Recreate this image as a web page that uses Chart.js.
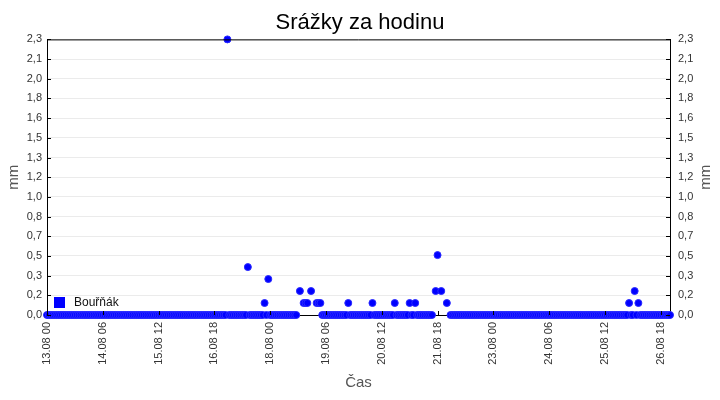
<!DOCTYPE html>
<html lang="cs">
<head>
<meta charset="utf-8">
<title>Srážky za hodinu</title>
<script src="https://cdn.jsdelivr.net/npm/chart.js@4.4.1/dist/chart.umd.min.js"></script>
<style>
  html, body { margin: 0; padding: 0; background: #fff; }
  #wrap { width: 720px; height: 400px; }
</style>
</head>
<body>
<div id="wrap"><canvas id="rainChart" width="720" height="400"></canvas></div>
<script>
const chartTitle = "Srážky za hodinu";
const stationName = "Bouřňák";
const yTitle = "mm";
const xTitle = "Čas";

// hourly rain in mm, one row = one day (hours 00..23), null = no reading
const day13 = [0,0,0,0,0,0,0,0,0,0,0,0,0,0,0,0,0,0,0,0,0,0,0,0];
const day14 = [0,0,0,0,0,0,0,0,0,0,0,0,0,0,0,0,0,0,0,0,0,0,0,0];
const day15 = [0,0,0,0,0,0,0,0,0,0,0,0,0,0,0,0,0,0,0,0,0,0,0,0];
const day16 = [0,0,0,0,0,0,0,0,0,0,0,0,0,0,0,0,0,0,0,0,0,0,0,0];
const day17 = [0,2.3,0,0,0,0,0,0,0,0,0,0,0.4,0,0,0,0,0,0,0,0,0.1,0,0.3];
const day18 = [0,0,0,0,0,0,0,0,0,0,0,0,0,0,0,null,0.2,null,0.1,0.1,0.1,null,0.2,null];
const day19 = [null,0.1,0.1,0.1,0,0,0,0,0,0,0,0,0,0,0,0,0,0,0.1,0,0,0,0,0];
const day20 = [0,0,0,0,0,0,0,0.1,0,0,0,0,0,0,0,0,0,0,0,0.1,0,0,0,0];
const day21 = [0,0,0,0.1,0,0,0.1,0,0,0,0,0,0,0,0,0,null,0.2,0.5,null,0.2,null,null,0.1];
const day22 = [null,0,0,0,0,0,0,0,0,0,0,0,0,0,0,0,0,0,0,0,0,0,0,0];
const day23 = [0,0,0,0,0,0,0,0,0,0,0,0,0,0,0,0,0,0,0,0,0,0,0,0];
const day24 = [0,0,0,0,0,0,0,0,0,0,0,0,0,0,0,0,0,0,0,0,0,0,0,0];
const day25 = [0,0,0,0,0,0,0,0,0,0,0,0,0,0,0,0,0,0,0,0,0,0,0,0];
const day26 = [0,0.1,0,0,0.2,0,0.1,0,0,0,0,0,0,0,0,0,0,0,0,0,0,0,0,0];

const hourlyRain = [...day13, ...day14, ...day15, ...day16, ...day17, ...day18, ...day19,
  ...day20, ...day21, ...day22, ...day23, ...day24, ...day25, ...day26];

// tick labels on the time axis, placed at hour offsets from 13.08 00
const xTickHours = [0, 30, 60, 90, 120, 150, 180, 210, 240, 270, 300, 330];
const xTickLabels = ["13.08 00", "14.08 06", "15.08 12", "16.08 18", "18.08 00", "19.08 06",
  "20.08 12", "21.08 18", "23.08 00", "24.08 06", "25.08 12", "26.08 18"];

const yMax = 2.3;
const yTickLabels = ["0,0", "0,2", "0,3", "0,5", "0,7", "0,8", "1,0", "1,2", "1,3", "1,5",
  "1,6", "1,8", "2,0", "2,1", "2,3"];

const fontFamily = "'Liberation Sans', Arial, sans-serif";
const blue = "#0000ff";

function yTicks(scale) {
  scale.ticks = yTickLabels.map((_, i) => ({ value: yMax * i / (yTickLabels.length - 1) }));
}

const frameExtras = {
  id: "frameExtras",
  afterDraw(chart) {
    const { ctx, chartArea: a, scales } = chart;
    ctx.save();
    ctx.strokeStyle = "#000";
    ctx.lineWidth = 1;
    ctx.beginPath();
    // top border
    ctx.moveTo(a.left, a.top + 0.5);
    ctx.lineTo(a.right, a.top + 0.5);
    // inner tick marks
    xTickHours.forEach((h) => {
      const px = Math.round(scales.x.getPixelForValue(h)) + 0.5;
      ctx.moveTo(px, a.bottom);
      ctx.lineTo(px, a.bottom - 4);
    });
    scales.y.ticks.forEach((t) => {
      const py = Math.round(scales.y.getPixelForValue(t.value)) + 0.5;
      ctx.moveTo(a.left, py);
      ctx.lineTo(a.left + 4, py);
      ctx.moveTo(a.right, py);
      ctx.lineTo(a.right - 4, py);
    });
    ctx.stroke();

    // right axis title, reading bottom to top like the left one
    ctx.fillStyle = "#555";
    ctx.font = "15px " + fontFamily;
    ctx.textAlign = "center";
    ctx.textBaseline = "middle";
    ctx.translate(706, (a.top + a.bottom) / 2);
    ctx.rotate(-Math.PI / 2);
    ctx.fillText(yTitle, 0, 0);
    ctx.restore();

    // legend inside the plot, bottom left
    ctx.save();
    ctx.fillStyle = blue;
    ctx.fillRect(a.left + 7, a.bottom - 18, 11, 11);
    ctx.fillStyle = "#111";
    ctx.font = "12px " + fontFamily;
    ctx.textBaseline = "middle";
    ctx.fillText(stationName, a.left + 27, a.bottom - 12);
    ctx.restore();
  },
};

const points = [];
hourlyRain.forEach((v, i) => {
  if (v !== null) points.push({ x: i, y: v });
});

new Chart(document.getElementById("rainChart"), {
  type: "scatter",
  data: {
    datasets: [
      {
        label: stationName,
        data: points,
        backgroundColor: blue,
        borderColor: "#2a2aff",
        borderWidth: 1,
        pointRadius: 3.5,
        pointHoverRadius: 3.5,
        clip: false,
      },
    ],
  },
  options: {
    responsive: false,
    animation: false,
    layout: { padding: 0 },
    plugins: {
      legend: { display: false },
      tooltip: { enabled: false },
      title: {
        display: true,
        text: chartTitle,
        color: "#000",
        font: { family: fontFamily, size: 22, weight: "normal" },
        padding: { top: 10, bottom: 3 },
      },
    },
    scales: {
      x: {
        type: "linear",
        min: 0,
        max: hourlyRain.length - 1,
        afterBuildTicks: (scale) => {
          scale.ticks = xTickHours.map((h) => ({ value: h }));
        },
        afterFit: (scale) => { scale.height = 85; },
        ticks: {
          autoSkip: false,
          maxRotation: 90,
          minRotation: 90,
          padding: 7,
          color: "#333",
          font: { family: fontFamily, size: 11 },
          callback: (v) => xTickLabels[xTickHours.indexOf(v)] ?? "",
        },
        grid: { display: false, drawTicks: false },
        border: { display: true, color: "#000", width: 1 },
        title: {
          display: true,
          text: xTitle,
          color: "#555",
          font: { family: fontFamily, size: 15 },
          padding: { top: 0, bottom: 8 },
        },
      },
      y: {
        position: "left",
        min: 0,
        max: yMax,
        afterBuildTicks: yTicks,
        afterFit: (scale) => { scale.width = 47; },
        ticks: {
          autoSkip: false,
          padding: 5,
          color: "#333",
          font: { family: fontFamily, size: 11 },
          callback: (v, i) => yTickLabels[i],
        },
        grid: { color: "#ebebeb", drawTicks: false },
        border: { display: true, color: "#000", width: 1 },
        title: {
          display: true,
          text: yTitle,
          color: "#555",
          font: { family: fontFamily, size: 15 },
          padding: { top: 5 },
        },
      },
      y2: {
        position: "right",
        min: 0,
        max: yMax,
        afterBuildTicks: yTicks,
        afterFit: (scale) => { scale.width = 50; },
        ticks: {
          autoSkip: false,
          padding: 8,
          color: "#333",
          font: { family: fontFamily, size: 11 },
          callback: (v, i) => yTickLabels[i],
        },
        grid: { display: false, drawTicks: false },
        border: { display: true, color: "#000", width: 1 },
      },
    },
  },
  plugins: [frameExtras],
});
</script>
</body>
</html>
